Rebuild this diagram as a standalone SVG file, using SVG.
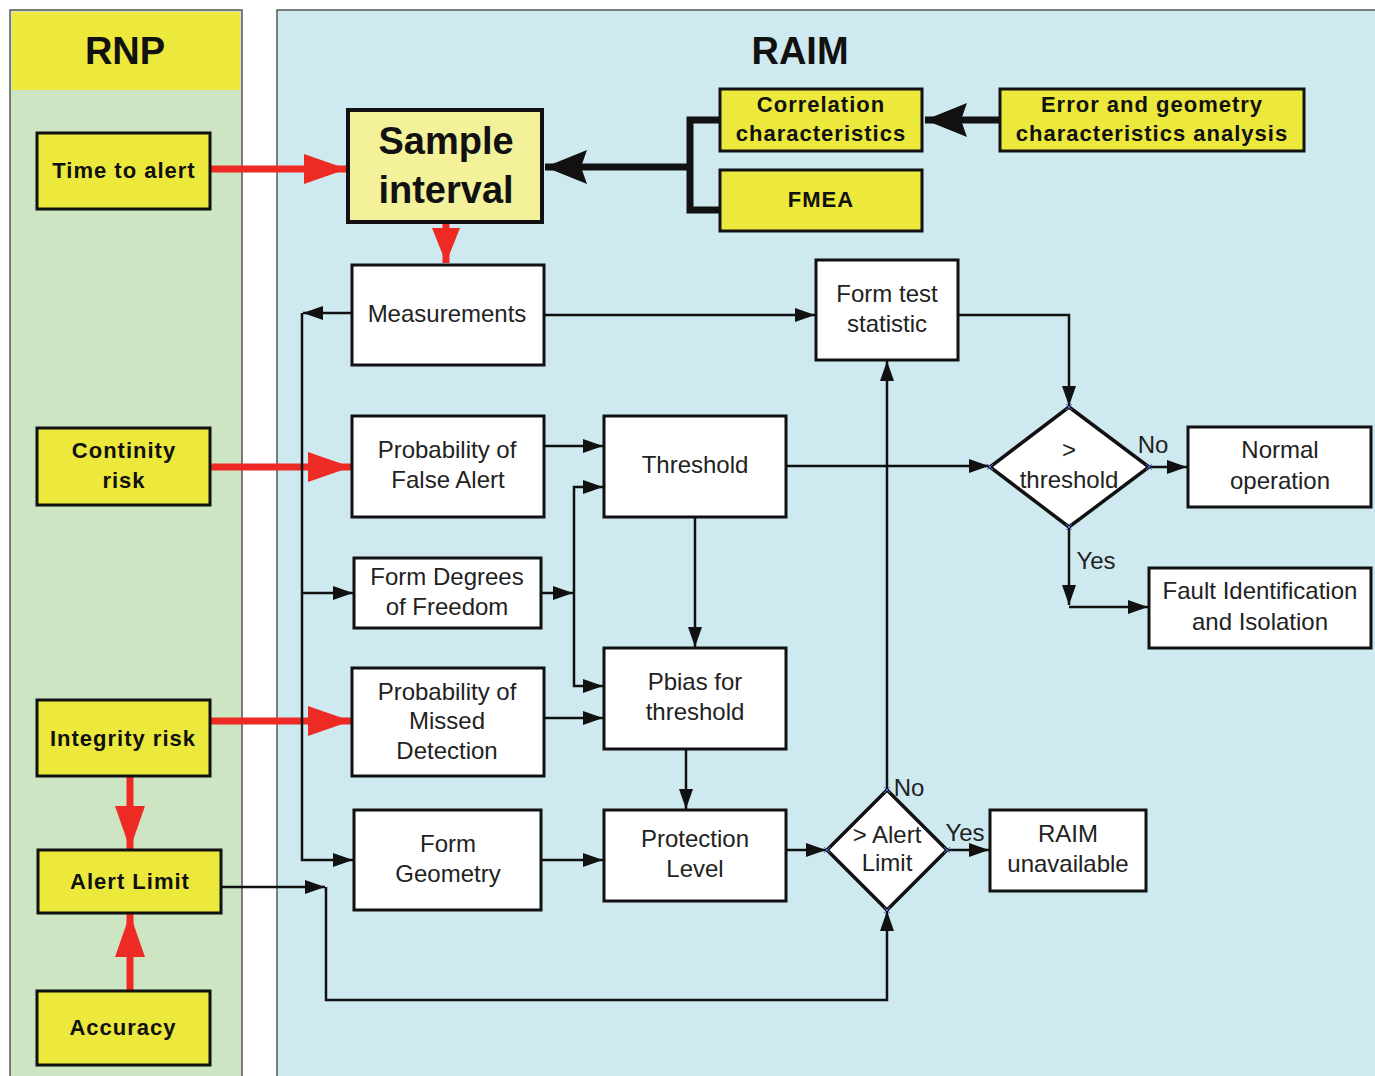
<svg xmlns="http://www.w3.org/2000/svg" width="1375" height="1076" viewBox="0 0 1375 1076">
<defs>
<style>
.ybox{fill:#ece83c;stroke:#111;stroke-width:3}
.wbox{fill:#fff;stroke:#111;stroke-width:3}
.yt{font-family:"Liberation Sans",Arial,sans-serif;font-weight:bold;font-size:22px;letter-spacing:1px;fill:#111;text-anchor:middle}
.wt{font-family:"Liberation Sans",Arial,sans-serif;font-size:24px;fill:#222;text-anchor:middle}
.ht{font-family:"Liberation Sans",Arial,sans-serif;font-weight:bold;font-size:38px;fill:#111;text-anchor:middle}
.c{fill:none;stroke:#111;stroke-width:2.5}
.ck{fill:none;stroke:#111;stroke-width:7}
.r{fill:none;stroke:#ee2a24;stroke-width:7}
.x{fill:none;stroke:#5566cc;stroke-width:1}
</style>
<marker id="ab" markerUnits="userSpaceOnUse" markerWidth="22" markerHeight="16" refX="20" refY="8" orient="auto"><path d="M0,1 L20,8 L0,15 z" fill="#111"/></marker>
<marker id="abk" markerUnits="userSpaceOnUse" markerWidth="44" markerHeight="34" refX="42" refY="17" orient="auto"><path d="M0,0 L42,17 L0,34 L6,17 z" fill="#111"/></marker>
<marker id="rl" markerUnits="userSpaceOnUse" markerWidth="44" markerHeight="30" refX="43" refY="15" orient="auto"><path d="M0,0 L43,15 L0,30 z" fill="#ee2a24"/></marker>
<marker id="rs" markerUnits="userSpaceOnUse" markerWidth="36" markerHeight="28" refX="35" refY="14" orient="auto"><path d="M0,0 L35,14 L0,28 z" fill="#ee2a24"/></marker>
</defs>

<g id="panel-rnp">
<rect x="10" y="10" width="232" height="1075" fill="#cde5c3" stroke="#555" stroke-width="1.5"/>
<rect x="12" y="12" width="228" height="78" fill="#ece83c"/>
<text class="ht" x="125" y="64">RNP</text>
</g>
<g id="panel-raim">
<rect x="277" y="10" width="1110" height="1075" fill="#ceeaf0" stroke="#555" stroke-width="1.5"/>
<text class="ht" x="800" y="64">RAIM</text>
</g>

<g id="connectors">
<path class="r" d="M210,169 H347" marker-end="url(#rl)"/>
<path class="r" d="M446,222 V263" marker-end="url(#rs)"/>
<path class="r" d="M210,467 H351" marker-end="url(#rl)"/>
<path class="r" d="M210,721 H351" marker-end="url(#rl)"/>
<path class="r" d="M130,776 V849" marker-end="url(#rl)"/>
<path class="r" d="M130,991 V914" marker-end="url(#rl)"/>
<path class="ck" d="M720,120 H690 V210 H720"/>
<path class="ck" d="M690,167 H545" marker-end="url(#abk)"/>
<path class="ck" d="M1000,120 H925" marker-end="url(#abk)"/>
<path class="c" d="M544,315 H815" marker-end="url(#ab)"/>
<path class="c" d="M352,313 H303" marker-end="url(#ab)"/>
<path class="c" d="M302,313 V860 H353" marker-end="url(#ab)"/>
<path class="c" d="M302,593 H353" marker-end="url(#ab)"/>
<path class="c" d="M958,315 H1069 V406" marker-end="url(#ab)"/>
<path class="c" d="M544,446 H603" marker-end="url(#ab)"/>
<path class="c" d="M541,593 H573" marker-end="url(#ab)"/>
<path class="c" d="M574,593 V487 H603" marker-end="url(#ab)"/>
<path class="c" d="M574,593 V686 H603" marker-end="url(#ab)"/>
<path class="c" d="M544,718 H603" marker-end="url(#ab)"/>
<path class="c" d="M695,517 V647" marker-end="url(#ab)"/>
<path class="c" d="M786,466 H989" marker-end="url(#ab)"/>
<path class="c" d="M686,749 V809" marker-end="url(#ab)"/>
<path class="c" d="M541,860 H603" marker-end="url(#ab)"/>
<path class="c" d="M786,850 H826" marker-end="url(#ab)"/>
<path class="c" d="M947,850 H989" marker-end="url(#ab)"/>
<path class="c" d="M887,790 V361" marker-end="url(#ab)"/>
<path class="c" d="M221,887 H325" marker-end="url(#ab)"/>
<path class="c" d="M326,887 V1000 H887 V911" marker-end="url(#ab)"/>
<path class="c" d="M1149,467 H1187" marker-end="url(#ab)"/>
<path class="c" d="M1069,527 V605" marker-end="url(#ab)"/>
<path class="c" d="M1069,607 H1148" marker-end="url(#ab)"/>
<text class="wt" x="1153" y="453" font-size="23">No</text>
<text class="wt" x="1096" y="569">Yes</text>
<text class="wt" x="909" y="796" font-size="23">No</text>
<text class="wt" x="965" y="841">Yes</text>
</g>

<g id="n-time"><rect class="ybox" x="37" y="133" width="173" height="76"/><text class="yt" x="124" y="178">Time to alert</text></g>
<g id="n-cont"><rect class="ybox" x="37" y="428" width="173" height="77"/><text class="yt" x="124" y="458">Continity</text><text class="yt" x="124" y="488">risk</text></g>
<g id="n-integ"><rect class="ybox" x="37" y="700" width="173" height="76"/><text class="yt" x="123" y="746">Integrity risk</text></g>
<g id="n-alert"><rect class="ybox" x="38" y="850" width="183" height="63"/><text class="yt" x="130" y="889">Alert Limit</text></g>
<g id="n-acc"><rect class="ybox" x="37" y="991" width="173" height="74"/><text class="yt" x="123" y="1035">Accuracy</text></g>

<g id="n-sample"><rect x="348" y="110" width="194" height="112" fill="#f3f29b" stroke="#111" stroke-width="4"/><text class="ht" x="446" y="154" font-size="39">Sample</text><text class="ht" x="446" y="203" font-size="39">interval</text></g>
<g id="n-corr"><rect class="ybox" x="720" y="89" width="202" height="62"/><text class="yt" x="821" y="112">Correlation</text><text class="yt" x="821" y="141">characteristics</text></g>
<g id="n-err"><rect class="ybox" x="1000" y="89" width="304" height="62"/><text class="yt" x="1152" y="112">Error and geometry</text><text class="yt" x="1152" y="141">characteristics analysis</text></g>
<g id="n-fmea"><rect class="ybox" x="720" y="170" width="202" height="61"/><text class="yt" x="821" y="207">FMEA</text></g>

<g id="n-meas"><rect class="wbox" x="352" y="265" width="192" height="100"/><text class="wt" x="447" y="322">Measurements</text></g>
<g id="n-fts"><rect class="wbox" x="816" y="260" width="142" height="100"/><text class="wt" x="887" y="302">Form test</text><text class="wt" x="887" y="332">statistic</text></g>
<g id="n-pfa"><rect class="wbox" x="352" y="416" width="192" height="101"/><text class="wt" x="447" y="458">Probability of</text><text class="wt" x="448" y="488">False Alert</text></g>
<g id="n-thr"><rect class="wbox" x="604" y="416" width="182" height="101"/><text class="wt" x="695" y="473">Threshold</text></g>
<g id="n-dof"><rect class="wbox" x="354" y="558" width="187" height="70"/><text class="wt" x="447" y="585">Form Degrees</text><text class="wt" x="447" y="615">of Freedom</text></g>
<g id="n-pbias"><rect class="wbox" x="604" y="648" width="182" height="101"/><text class="wt" x="695" y="690">Pbias for</text><text class="wt" x="695" y="720">threshold</text></g>
<g id="n-pmd"><rect class="wbox" x="352" y="668" width="192" height="108"/><text class="wt" x="447" y="700">Probability of</text><text class="wt" x="447" y="729">Missed</text><text class="wt" x="447" y="759">Detection</text></g>
<g id="n-geo"><rect class="wbox" x="354" y="810" width="187" height="100"/><text class="wt" x="448" y="852">Form</text><text class="wt" x="448" y="882">Geometry</text></g>
<g id="n-pl"><rect class="wbox" x="604" y="810" width="182" height="91"/><text class="wt" x="695" y="847">Protection</text><text class="wt" x="695" y="877">Level</text></g>
<g id="n-normal"><rect class="wbox" x="1188" y="427" width="183" height="80"/><text class="wt" x="1280" y="458">Normal</text><text class="wt" x="1280" y="489">operation</text></g>
<g id="n-fault"><rect class="wbox" x="1149" y="568" width="222" height="80"/><text class="wt" x="1260" y="599">Fault Identification</text><text class="wt" x="1260" y="630">and Isolation</text></g>
<g id="n-unav"><rect class="wbox" x="990" y="810" width="156" height="81"/><text class="wt" x="1068" y="842">RAIM</text><text class="wt" x="1068" y="872">unavailable</text></g>

<g id="d-thr">
<path d="M1069,407 L1149,467 L1069,527 L990,467 z" fill="#fff" stroke="#111" stroke-width="3.5"/>
<text class="wt" x="1069" y="458">&gt;</text><text class="wt" x="1069" y="488">threshold</text>
<path class="x" d="M1066,404 l6,6 m0,-6 l-6,6 M1146,464 l6,6 m0,-6 l-6,6 M1066,524 l6,6 m0,-6 l-6,6 M987,464 l6,6 m0,-6 l-6,6"/>
</g>
<g id="d-al">
<path d="M887,790 L947,850 L887,910 L827,850 z" fill="#fff" stroke="#111" stroke-width="3.5"/>
<text class="wt" x="887" y="843" font-size="21">&gt; Alert</text><text class="wt" x="887" y="871" font-size="21">Limit</text>
<path class="x" d="M884,787 l6,6 m0,-6 l-6,6 M944,847 l6,6 m0,-6 l-6,6 M884,907 l6,6 m0,-6 l-6,6 M824,847 l6,6 m0,-6 l-6,6"/>
</g>
</svg>
